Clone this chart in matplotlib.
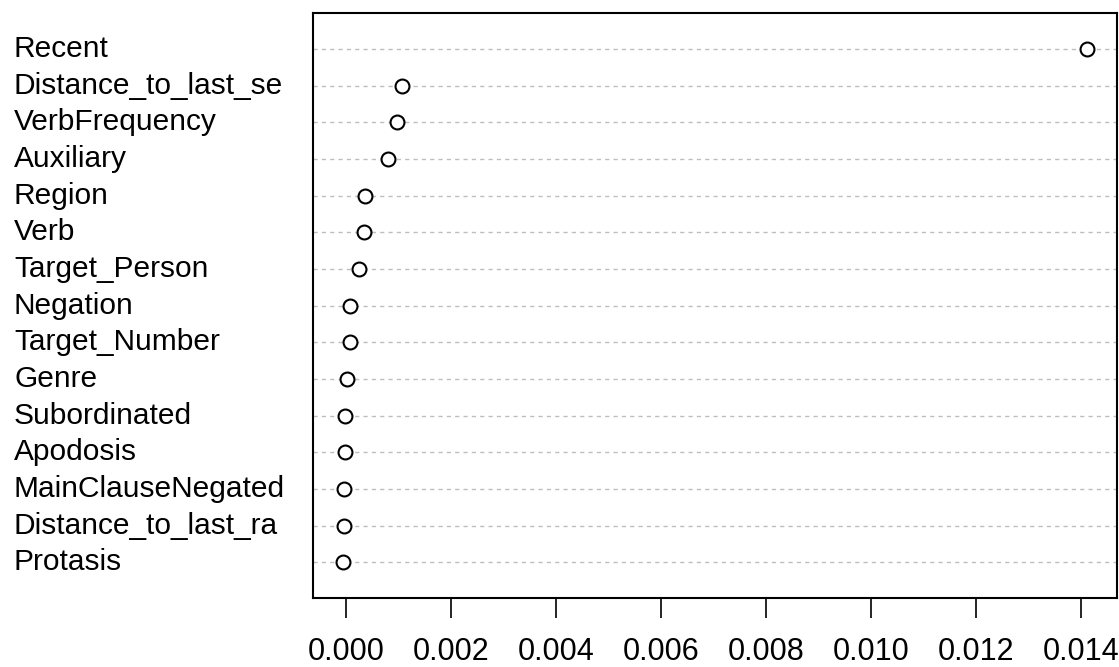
import matplotlib
matplotlib.use("Agg")
import matplotlib.pyplot as plt
import matplotlib.transforms as mtransforms

plt.rcParams["font.family"] = ["Liberation Sans", "DejaVu Sans"]

# variable importance, top to bottom as shown
labels = ["Recent", "Distance_to_last_se", "VerbFrequency", "Auxiliary", "Region",
          "Verb", "Target_Person", "Negation", "Target_Number", "Genre",
          "Subordinated", "Apodosis", "MainClauseNegated", "Distance_to_last_ra",
          "Protasis"]
values = [0.01412, 0.00106, 0.00097, 0.00081, 0.00037,
          0.00035, 0.00024, 0.00008, 0.00007, 0.00002,
          -0.00001, -0.00001, -0.00003, -0.00004, -0.00006]
xticks = [0.000, 0.002, 0.004, 0.006, 0.008, 0.010, 0.012, 0.014]

W, H = 1119, 667
fig = plt.figure(figsize=(W / 100, H / 100), dpi=100)
ax = fig.add_axes([313 / W, 1 - 598 / H, (1117 - 313) / W, (598 - 13) / H])

n = len(labels)
ypos = list(range(n, 0, -1))

for y in ypos:
    ax.axhline(y, color="#BEBEBE", linestyle=(0, (3, 3)), linewidth=1.0, zorder=1)
ax.plot(values, ypos, linestyle="none", marker="o", markersize=10,
        markerfacecolor="white", markeredgecolor="black", markeredgewidth=1.5, zorder=3)

span = max(values) - min(values)
ax.set_xlim(min(values) - 0.04 * span, max(values) + 0.04 * span)
ax.set_ylim(0.03, n + 0.98)

ax.set_yticks([])
ax.set_xticks(xticks)
ax.set_xticklabels([f"{t:.3f}" for t in xticks], fontsize=22)
ax.tick_params(axis="x", length=14.4, width=1.2, pad=14, direction="out")
for s in ax.spines.values():
    s.set_linewidth(1.5)

trans = mtransforms.blended_transform_factory(fig.transFigure, ax.transData)
for lab, y in zip(labels, ypos):
    ax.text(14 / W, y, lab, transform=trans, ha="left", va="center", fontsize=21.5)

fig.savefig("out.png", dpi=100)
